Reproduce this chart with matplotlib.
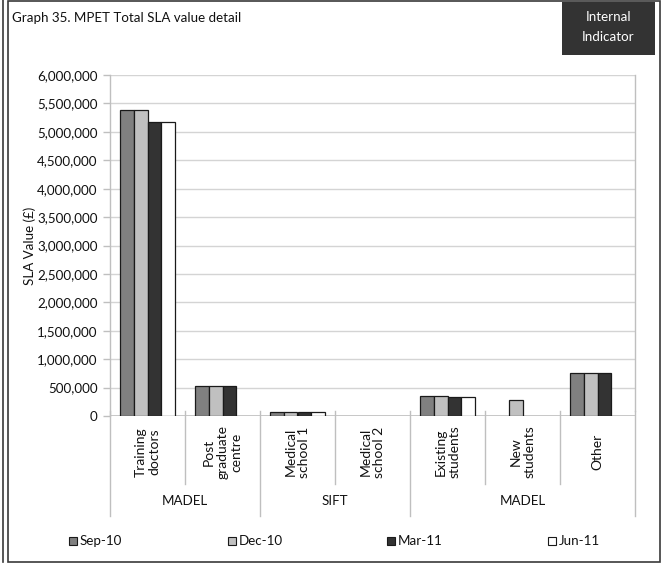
import numpy as np
import matplotlib
matplotlib.use("Agg")
import matplotlib.pyplot as plt
from matplotlib.patches import Rectangle
from matplotlib.lines import Line2D
from matplotlib.ticker import FuncFormatter, MultipleLocator
import matplotlib.transforms as mtransforms

plt.rcParams['font.family'] = ['Lato', 'DejaVu Sans']

# ---- data -------------------------------------------------------------
categories = ["Training\ndoctors", "Post\ngraduate\ncentre", "Medical\nschool 1",
              "Medical\nschool 2", "Existing\nstudents", "New\nstudents", "Other"]
groups = ["MADEL", "SIFT", "MADEL"]
group_spans = [(0, 1), (2, 3), (4, 6)]

series_names = ["Sep-10", "Dec-10", "Mar-11", "Jun-11"]
sep10 = [5380000, 530000, 65000, None, 360000, None, 750000]
dec10 = [5380000, 530000, 65000, None, 350000, 275000, 750000]
mar11 = [5170000, 530000, 65000, None, 330000, None, 750000]
jun11 = [5170000, None, 65000, None, 330000, None, None]
series = [sep10, dec10, mar11, jun11]
colors = ["#808080", "#c0c0c0", "#333333", "#ffffff"]

W, H = 662, 563
FS = 9.6


def fx(x):
    return x / W


def fy(y):
    return 1 - y / H


fig = plt.figure(figsize=(W / 100, H / 100), dpi=100)

# outer frame
frame_col = "#3a3a3a"
fig.add_artist(Line2D([fx(3), fx(3)], [fy(0), fy(562)], color=frame_col, lw=1.2))
fig.add_artist(Rectangle((fx(8), fy(561.5)), fx(659.5) - fx(8), fy(0.5) - fy(561.5),
                         fill=False, edgecolor=frame_col, lw=1.2))

# title and badge
fig.text(fx(12), fy(18), "Graph 35. MPET Total SLA value detail", fontsize=FS,
         ha="left", va="center", color="#111111")
fig.add_artist(Rectangle((fx(562), fy(55)), fx(655) - fx(562), fy(2) - fy(55),
                         facecolor="#333333", edgecolor="none"))
fig.text(fx(608.5), fy(17), "Internal", fontsize=FS, color="white", ha="center", va="center")
fig.text(fx(608.5), fy(37), "Indicator", fontsize=FS, color="white", ha="center", va="center")

# plot area
ax = fig.add_axes([fx(110), fy(416), fx(635) - fx(110), fy(75) - fy(416)])
n = len(categories)
x = np.arange(n)
w = 0.183
for k, (vals, col, name) in enumerate(zip(series, colors, series_names)):
    xs = [xi + (k - 1.5) * w for xi, v in zip(x, vals) if v is not None]
    hs = [v for v in vals if v is not None]
    ax.bar(xs, hs, width=w, color=col, edgecolor="#1a1a1a", linewidth=0.9,
           label=name, zorder=3)

ax.set_xlim(-0.5, n - 0.5)
ax.set_ylim(0, 6000000)
ax.yaxis.set_major_locator(MultipleLocator(500000))
ax.yaxis.set_major_formatter(FuncFormatter(lambda v, p: f"{int(v):,}"))
ax.grid(axis="y", color="#d4d4d4", lw=1.0, zorder=0)
ax.set_xticks([])
for s in ["top", "right", "bottom"]:
    ax.spines[s].set_visible(False)
ax.spines["left"].set_color("#bfbfbf")
ax.spines["left"].set_linewidth(1.0)
ax.axhline(0, color="#bfbfbf", lw=1.2, zorder=2)
ax.tick_params(axis="y", length=5, width=1, color="#bfbfbf", labelsize=FS,
               labelcolor="#111111", pad=4)
ax.set_ylabel("SLA Value (£)", fontsize=FS, color="#111111")
ax.yaxis.label.set_verticalalignment("center")
ax.yaxis.set_label_coords((30 - 110) / 525, 0.5)

# multi-level category axis
trans = mtransforms.blended_transform_factory(ax.transData, fig.transFigure)
line_col = "#bfbfbf"
group_edges = {-0.5} | {b + 0.5 for _, b in group_spans}
for edge in np.arange(-0.5, n, 1.0):
    bottom = 516 if edge in group_edges else 484
    ax.add_line(Line2D([edge, edge], [fy(411), fy(bottom)], transform=trans,
                       color=line_col, lw=1.0, clip_on=False))
ax.add_line(Line2D([n - 0.5, n - 0.5], [fy(75), fy(411)], transform=trans,
                   color=line_col, lw=1.0, clip_on=False))
for xi, lab in zip(x, categories):
    ax.text(xi, fy(452), lab, transform=trans, rotation=90, ha="center", va="center",
            multialignment="center", fontsize=10, color="#111111", linespacing=1.15)
for g, (a, b) in zip(groups, group_spans):
    ax.text((a + b) / 2, fy(501), g, transform=trans, ha="center", va="center",
            fontsize=FS, color="#111111")

# legend
legend_x = [69, 228, 387, 548]
for lx, col, name in zip(legend_x, colors, series_names):
    fig.add_artist(Rectangle((fx(lx), fy(545)), fx(8), 8 / H, facecolor=col,
                             edgecolor="#1a1a1a", lw=0.8))
    fig.text(fx(lx + 11), fy(541), name, fontsize=FS, ha="left", va="center",
             color="#111111")

fig.savefig("out.png", dpi=100)
